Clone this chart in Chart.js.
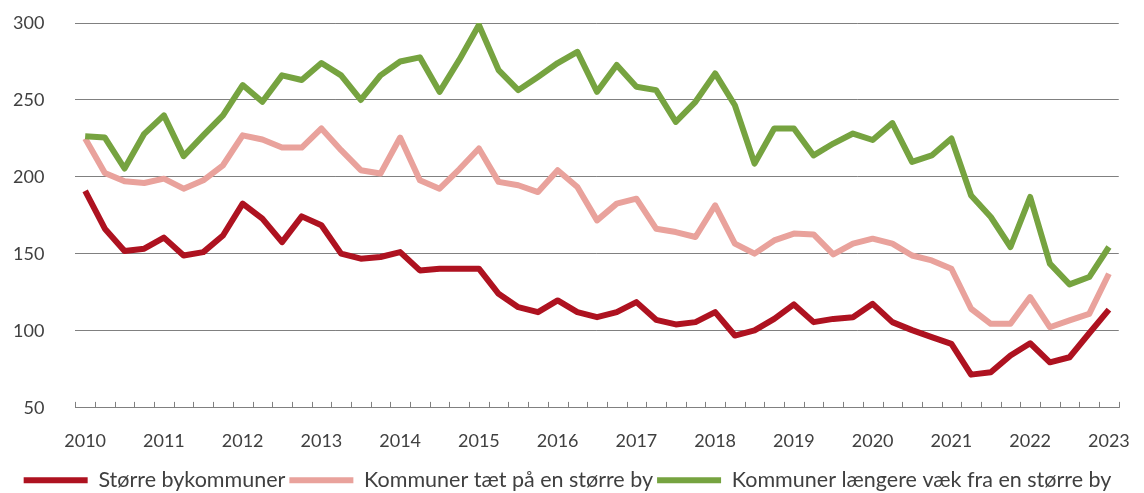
<!DOCTYPE html>
<html>
<head>
<meta charset="utf-8">
<script src="https://cdn.jsdelivr.net/npm/chart.js@4"></script>
<style>
  html, body { margin: 0; padding: 0; background: #fff; }
  #wrap { width: 1144px; height: 493px; position: relative; }
</style>
</head>
<body>
<div id="wrap"><canvas id="chart"></canvas></div>
<script>
// year labels, one per Q1
const years = ['2010','2011','2012','2013','2014','2015','2016','2017','2018','2019','2020','2021','2022','2023'];
const quarters = ['K1','K2','K3','K4'];

const seriesNames = ['Større bykommuner', 'Kommuner tæt på en større by', 'Kommuner længere væk fra en større by'];

const storreBy = [190.9,166.4,151.9,153.4,160.6,149,151.2,162,182.7,172.9,157.7,174.4,168.6,150.2,146.9,148,151.2,139.3,140.4,140.4,140.4,124.1,115.4,112.2,119.8,112.2,108.9,112.2,118.7,107.2,104.2,105.7,112.2,97,100.3,107.8,117.2,105.7,107.8,108.9,117.6,105.7,100.5,96,91.6,71.6,73.1,84,92,79.6,82.9,98.5,113.8];
const taetPaa = [225,202.6,197.2,196.1,198.9,192.4,197.8,207.6,227,224.3,219.1,219.1,231.5,217.4,204.4,202.2,225.6,197.9,192.4,205,218.5,196.8,194.6,190.2,204.4,193.5,171.8,182.7,185.9,166.4,164.2,161,181.6,156.7,150.2,158.8,163.2,162.7,149.7,156.7,159.9,156.7,149,145.8,140.4,114.4,104.6,104.6,122,102.4,106.8,111.1,137.1];
const laengereVaek = [226.5,225.6,205.5,228,240,213.5,227,240,259.7,248.8,266,263,274,266,250,266,275,277.7,255.3,276,298.7,269.4,256.4,265,274,281.3,255.3,272.7,258.6,256.4,235.8,248.8,267.3,246.6,208.7,231.5,231.5,214,221.7,228.2,224,235,209.8,214,225,188,174,154.5,187,143.7,130.2,135,154.5];

const yTicks = [50, 100, 150, 200, 250, 300];

const colors = ['#AE1220', '#E9A29C', '#76A340'];

// quarter categories, 2010K1 .. 2023K1
const categories = [];
years.forEach(y => quarters.forEach(q => categories.push(y + q)));
categories.length = storreBy.length;

// small tick marks pointing up from the x axis, between categories
const innerTicks = {
    id: 'innerTicks',
    beforeDatasetsDraw(chart) {
        const x = chart.scales.x;
        const y = chart.chartArea.bottom;
        const n = chart.data.labels.length;
        const half = (x.getPixelForValue(1) - x.getPixelForValue(0)) / 2;
        const ctx = chart.ctx;
        ctx.save();
        ctx.strokeStyle = '#808080';
        ctx.lineWidth = 1;
        ctx.beginPath();
        for (let i = 0; i <= n; i++) {
            const px = Math.round(x.getPixelForValue(i) - half) + 0.5;
            ctx.moveTo(px, y);
            ctx.lineTo(px, y - 6);
        }
        ctx.stroke();
        ctx.restore();
    }
};

const datasets = [storreBy, taetPaa, laengereVaek].map((d, i) => ({
    label: seriesNames[i],
    data: d,
    borderColor: colors[i],
    backgroundColor: colors[i],
    borderWidth: 6,
    pointRadius: 0,
    tension: 0,
    borderJoinStyle: 'round',
    order: 3 - i
}));

new Chart(document.getElementById('chart'), {
    type: 'line',
    data: { labels: categories, datasets: datasets },
    options: {
        responsive: true,
        maintainAspectRatio: false,
        animation: false,
        layout: { padding: { left: 13, right: 22, top: 23, bottom: -8 } },
        scales: {
            x: {
                offset: true,
                grid: { display: false },
                border: { display: true, color: '#808080', width: 1 },
                ticks: {
                    autoSkip: false,
                    maxRotation: 0,
                    padding: 14,
                    color: '#404040',
                    font: { family: 'Lato', size: 18 },
                    callback: function(v, i) { return i % 4 === 0 ? years[i / 4] : ''; }
                }
            },
            y: {
                min: 50,
                max: 300,
                afterBuildTicks: s => { s.ticks = yTicks.map(v => ({ value: v })); },
                grid: { color: '#808080', lineWidth: 1, drawTicks: true, tickLength: 31, tickColor: 'rgba(0,0,0,0)' },
                border: { display: false },
                ticks: {
                    padding: 0,
                    color: '#404040',
                    font: { family: 'Lato', size: 18 }
                }
            }
        },
        plugins: {
            legend: {
                position: 'bottom',
                labels: {
                    boxWidth: 64,
                    boxHeight: 6,
                    padding: 4,
                    color: '#404040',
                    font: { family: 'Lato', size: 21.5 },
                    sort: (a, b) => a.datasetIndex - b.datasetIndex,
                    generateLabels: chart => Chart.defaults.plugins.legend.labels.generateLabels(chart)
                        .map(it => Object.assign(it, { lineWidth: 0, fillStyle: it.strokeStyle }))
                }
            },
            tooltip: { enabled: false }
        }
    },
    plugins: [innerTicks]
});
</script>
</body>
</html>
